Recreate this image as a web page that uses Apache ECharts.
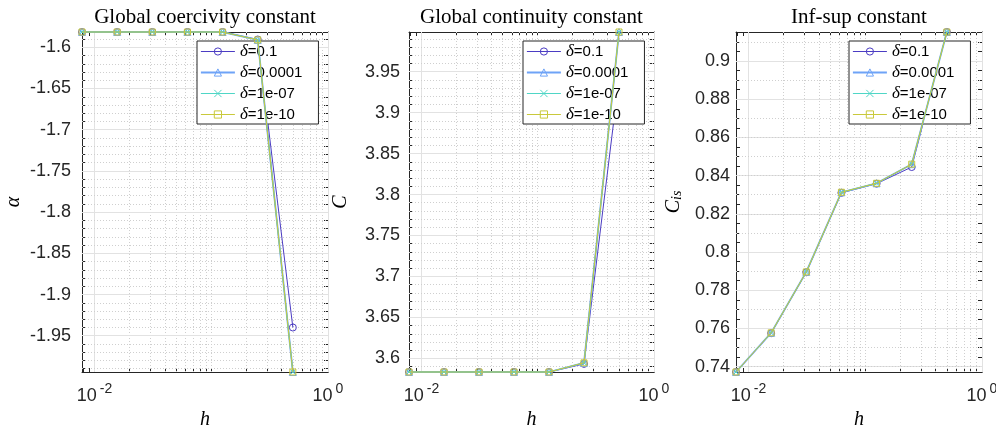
<!DOCTYPE html>
<html>
<head>
<meta charset="utf-8">
<script src="https://cdn.jsdelivr.net/npm/echarts@6/dist/echarts.min.js"></script>
<style>
html, body { margin: 0; padding: 0; background: #fff; }
#main { width: 996px; height: 430px; }
</style>
</head>
<body>
<div id="main"></div>
<script>
// mesh size h
var h = [0.0078125, 0.015625, 0.03125, 0.0625, 0.125, 0.25, 0.5];
var deltaNames = ['δ=0.1', 'δ=0.0001', 'δ=1e-07', 'δ=1e-10'];

// global coercivity constant (alpha)
var alpha_d1 = [-1.5814, -1.5814, -1.5814, -1.5814, -1.5814, -1.5905, -1.9400];
var alpha_d2 = [-1.5814, -1.5814, -1.5814, -1.5814, -1.5814, -1.5910, -1.9940];
var alpha_d3 = [-1.5814, -1.5814, -1.5814, -1.5814, -1.5814, -1.5910, -1.9940];
var alpha_d4 = [-1.5814, -1.5814, -1.5814, -1.5814, -1.5814, -1.5910, -1.9940];

// global continuity constant (C)
var cont_d1 = [3.5833, 3.5833, 3.5833, 3.5833, 3.5833, 3.5932, 3.9420];
var cont_d2 = [3.5833, 3.5833, 3.5833, 3.5833, 3.5833, 3.5945, 3.9985];
var cont_d3 = [3.5833, 3.5833, 3.5833, 3.5833, 3.5833, 3.5945, 3.9985];
var cont_d4 = [3.5833, 3.5833, 3.5833, 3.5833, 3.5833, 3.5945, 3.9985];

// inf-sup constant (C_is)
var infsup_d1 = [0.7372, 0.7575, 0.7894, 0.8310, 0.8358, 0.8445, 0.9152];
var infsup_d2 = [0.7372, 0.7577, 0.7896, 0.8313, 0.8360, 0.8460, 0.9152];
var infsup_d3 = [0.7372, 0.7577, 0.7896, 0.8313, 0.8360, 0.8460, 0.9152];
var infsup_d4 = [0.7372, 0.7577, 0.7896, 0.8313, 0.8360, 0.8460, 0.9152];

// tick labels
var xLabelTicks = [0.01, 1];
var xMinorTicks = [0.008, 0.009, 0.02, 0.03, 0.04, 0.05, 0.06, 0.07, 0.08, 0.09,
    0.1, 0.2, 0.3, 0.4, 0.5, 0.6, 0.7, 0.8, 0.9];
var alphaTicks = [-1.95, -1.9, -1.85, -1.8, -1.75, -1.7, -1.65, -1.6];
var contTicks = [3.6, 3.65, 3.7, 3.75, 3.8, 3.85, 3.9, 3.95];
var infsupTicks = [0.74, 0.76, 0.78, 0.8, 0.82, 0.84, 0.86, 0.88, 0.9];

var panels = [
    {title: 'Global coercivity constant', yName: 'α', series: [alpha_d1, alpha_d2, alpha_d3, alpha_d4],
     yMin: -1.994, yMax: -1.5814, ticks: alphaTicks, minorStep: 0.01,
     left: 82, width: 246, labelMargin: 11, nameGap: 58, legendLeft: 197},
    {title: 'Global continuity constant', yName: 'C', series: [cont_d1, cont_d2, cont_d3, cont_d4],
     yMin: 3.5833, yMax: 3.9985, ticks: contTicks, minorStep: 0.01,
     left: 409, width: 245, labelMargin: 9, nameGap: 58, legendLeft: 523},
    {title: 'Inf-sup constant', yName: '{i|C}{s|is}', series: [infsup_d1, infsup_d2, infsup_d3, infsup_d4],
     yMin: 0.7372, yMax: 0.9152, ticks: infsupTicks, minorStep: 0.005,
     left: 736, width: 246, labelMargin: 6, nameGap: 52, legendLeft: 849}
];

var colors = ['#4b3cc3', '#6ea3f7', '#4fd6c6', '#c9c93b'];
var symbols = ['circle', 'triangle', 'path://M0,0L10,10M10,0L0,10', 'rect'];
var symSizes = [7, 7, 5, 6];
var lineWidths = [1, 1.8, 1, 1];
var axisColor = '#262626';

// minor grid positions between the tick labels
function minorSteps(min, max, step) {
    var out = [];
    var start = Math.ceil(min / step - 1e-6);
    for (var k = start; k * step <= max + 1e-9; k++) {
        out.push(+(k * step).toFixed(4));
    }
    return out;
}

function fmtNum(v) {
    return String(+(+v).toFixed(4));
}

var option = {
    backgroundColor: '#fff',
    animation: false,
    grid: [], xAxis: [], yAxis: [], legend: [], series: [], graphic: []
};

var axisLine = {show: true, onZero: false, lineStyle: {color: axisColor, width: 1}};

panels.forEach(function (p, g) {
    option.grid.push({left: p.left, top: 32, width: p.width, height: 340, outerBoundsMode: 'none'});

    var xTicks = xLabelTicks.concat(xMinorTicks);
    var yTicks = minorSteps(p.yMin, p.yMax, p.minorStep);

    option.xAxis.push({
        type: 'log', logBase: 10, gridIndex: g, position: 'bottom', min: h[0], max: 1,
        axisLine: axisLine,
        axisTick: {show: true, inside: true, length: 4, customValues: xTicks, lineStyle: {color: axisColor}},
        axisLabel: {
            customValues: xLabelTicks, margin: 10,
            formatter: function (v) { return '{b|10}{s|' + Math.round(Math.log10(v)) + '}'; },
            rich: {
                b: {fontFamily: 'Liberation Sans', fontSize: 18, color: axisColor, lineHeight: 28},
                s: {fontFamily: 'Liberation Sans', fontSize: 14, color: axisColor, lineHeight: 14,
                    verticalAlign: 'top', padding: [0, 0, 0, 3]}
            }
        },
        splitLine: {show: false},
        name: 'h', nameLocation: 'middle', nameGap: 36,
        nameTextStyle: {fontFamily: 'Liberation Serif', fontStyle: 'italic', fontSize: 20, color: '#000'}
    });
    option.xAxis.push({
        type: 'log', logBase: 10, gridIndex: g, position: 'top', min: h[0], max: 1,
        axisLine: axisLine,
        axisTick: {show: true, inside: true, length: 4, customValues: xTicks, lineStyle: {color: axisColor}},
        axisLabel: {show: false},
        splitLine: {show: false}
    });
    option.yAxis.push({
        type: 'value', gridIndex: g, position: 'left', min: p.yMin, max: p.yMax,
        axisLine: axisLine,
        axisTick: {show: true, inside: true, length: 4, customValues: yTicks, lineStyle: {color: axisColor}},
        axisLabel: {
            customValues: p.ticks, margin: p.labelMargin, formatter: fmtNum,
            fontFamily: 'Liberation Sans', fontSize: 18, color: axisColor
        },
        splitLine: {show: false},
        name: p.yName, nameLocation: 'middle', nameGap: p.nameGap, nameRotate: 90,
        nameTextStyle: {
            fontFamily: 'Liberation Serif', fontStyle: 'italic', fontSize: 20, color: '#000',
            rich: {
                i: {fontFamily: 'Liberation Serif', fontStyle: 'italic', fontSize: 20, color: '#000'},
                s: {fontFamily: 'Liberation Serif', fontStyle: 'italic', fontSize: 14, color: '#000', verticalAlign: 'bottom'}
            }
        }
    });
    option.yAxis.push({
        type: 'value', gridIndex: g, position: 'right', min: p.yMin, max: p.yMax,
        axisLine: axisLine,
        axisTick: {show: true, inside: true, length: 4, customValues: yTicks, lineStyle: {color: axisColor}},
        axisLabel: {show: false},
        splitLine: {show: false}
    });

    // grid lines: solid at labelled ticks, dotted at the minor ones
    var major = {color: '#e2e2e2', type: 'solid', width: 1};
    var gridData = [];
    xMinorTicks.forEach(function (v) { gridData.push({xAxis: v}); });
    xLabelTicks.forEach(function (v) { gridData.push({xAxis: v, lineStyle: major}); });
    yTicks.forEach(function (v) {
        var isMajor = p.ticks.some(function (t) { return Math.abs(t - v) < 1e-6; });
        gridData.push(isMajor ? {yAxis: v, lineStyle: major} : {yAxis: v});
    });

    p.series.forEach(function (vals, k) {
        var s = {
            type: 'line', name: deltaNames[k],
            xAxisIndex: 2 * g, yAxisIndex: 2 * g,
            data: h.map(function (x, i) { return [x, vals[i]]; }),
            symbol: symbols[k], symbolSize: symSizes[k], showAllSymbol: true,
            clip: false, z: 3 + k,
            lineStyle: {color: colors[k], width: lineWidths[k]},
            itemStyle: {color: 'rgba(0,0,0,0)', borderColor: colors[k], borderWidth: 1},
            emphasis: {disabled: true}
        };
        if (k === 0) {
            s.markLine = {
                silent: true, symbol: ['none', 'none'], label: {show: false},
                emphasis: {disabled: true}, animation: false, z: 1,
                lineStyle: {color: '#cfcfcf', type: [1, 2], width: 1},
                data: gridData
            };
        }
        option.series.push(s);
    });

    option.legend.push({
        orient: 'vertical', left: p.legendLeft, top: 41,
        padding: [2, 16, 1, 3], itemGap: 4, itemWidth: 34, itemHeight: 9,
        borderColor: axisColor, borderWidth: 1, backgroundColor: '#fff',
        selectedMode: false,
        lineStyle: {width: 'inherit'},
        itemStyle: {borderWidth: 'inherit'},
        data: deltaNames,
        formatter: function (name) { return '{d|δ}{t|' + name.slice(1) + '}'; },
        textStyle: {
            color: '#000', fontSize: 15, lineHeight: 17,
            rich: {
                d: {fontFamily: 'Liberation Serif', fontStyle: 'italic', fontSize: 17, lineHeight: 17, color: '#000'},
                t: {fontFamily: 'Liberation Sans', fontSize: 15, lineHeight: 17, color: '#000'}
            }
        }
    });

    option.graphic.push({
        type: 'text', x: p.left + p.width / 2, y: 17,
        style: {
            text: p.title, textAlign: 'center', textVerticalAlign: 'middle',
            fontFamily: 'Liberation Serif', fontSize: 21, fill: '#000'
        }
    });
});

var myChart = echarts.init(document.getElementById('main'));
myChart.setOption(option);
</script>
</body>
</html>
